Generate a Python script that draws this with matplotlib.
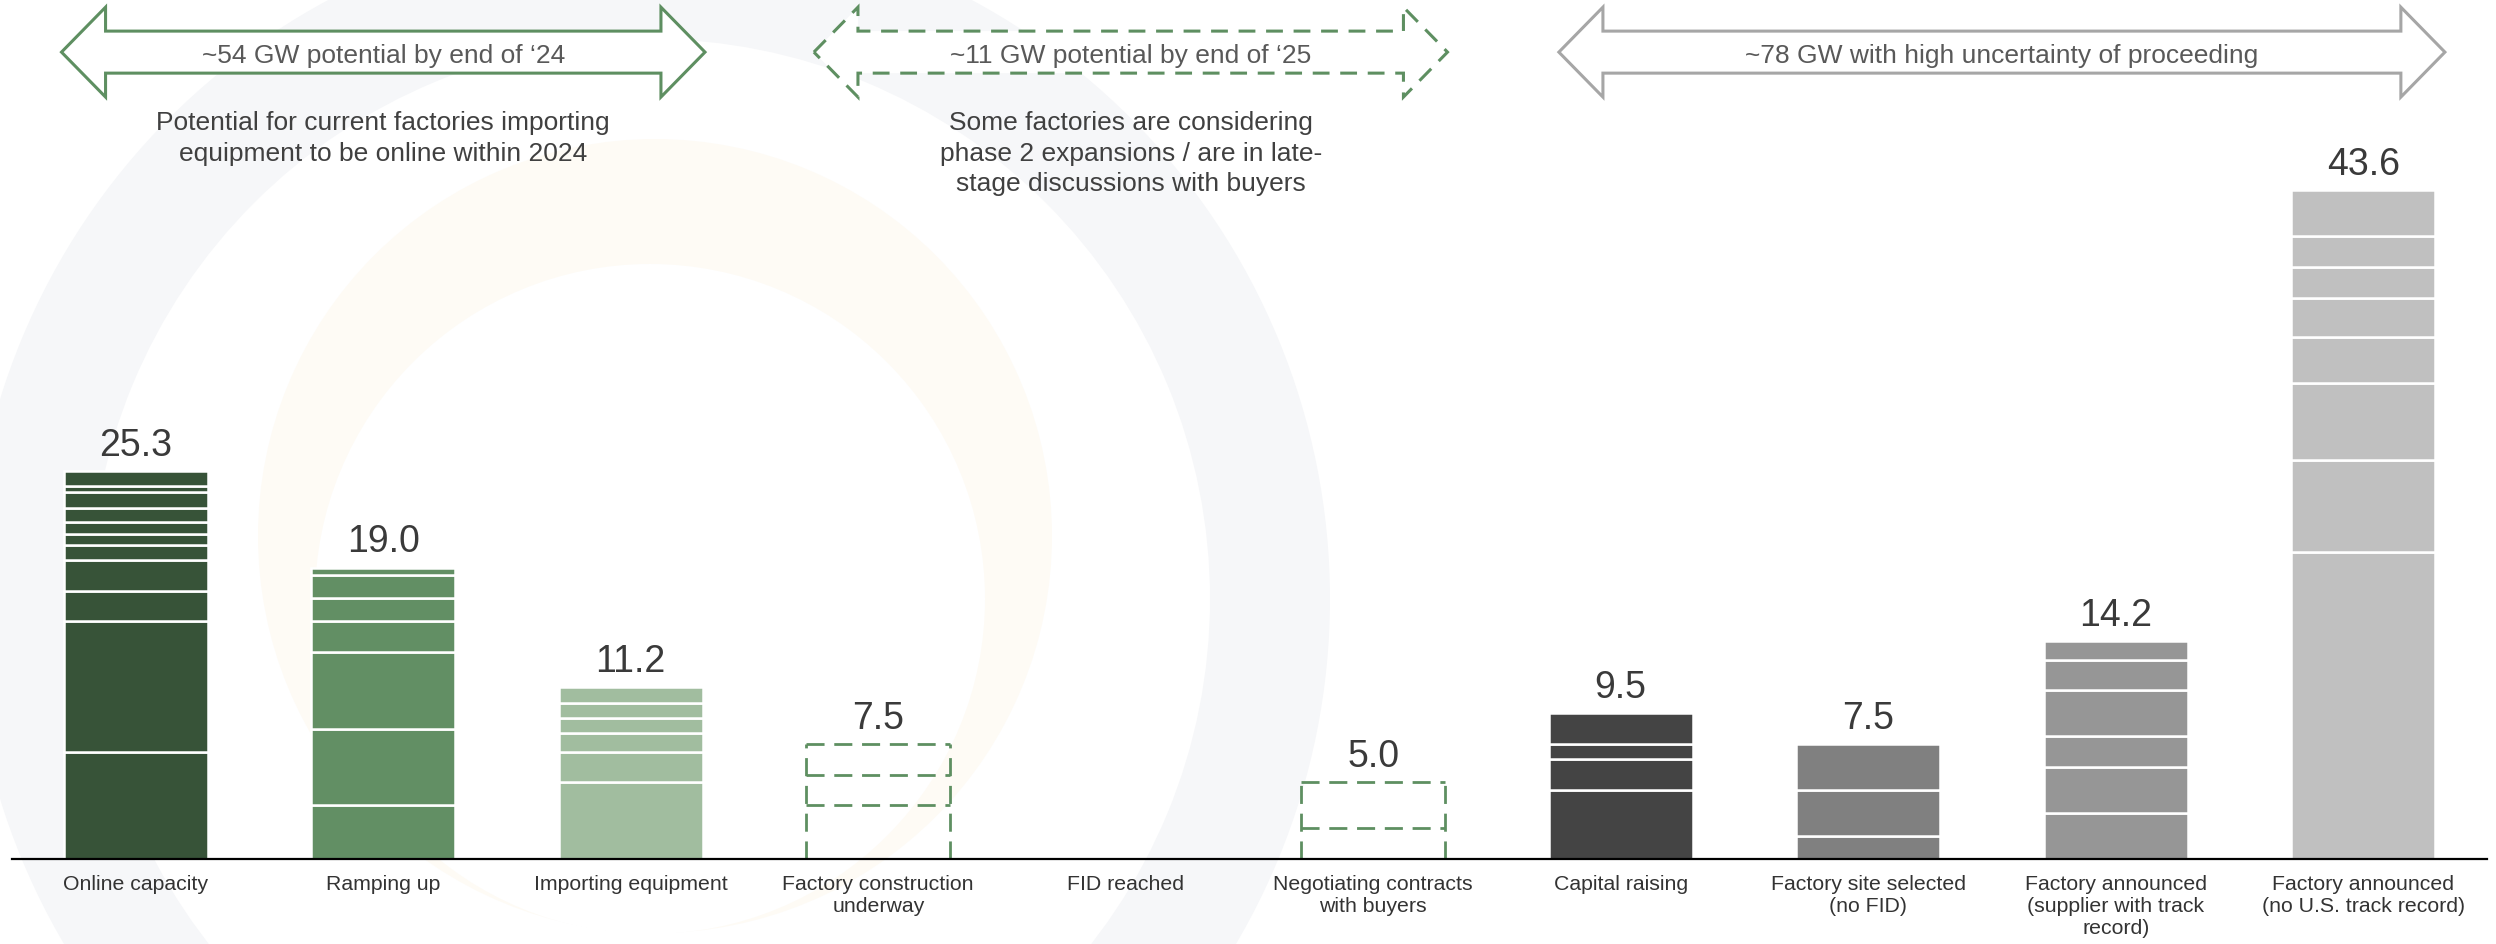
import numpy as np
import matplotlib
matplotlib.use("Agg")
import matplotlib.pyplot as plt
from matplotlib.patches import Polygon, Circle, Wedge

plt.rcParams['font.family'] = ['Liberation Sans', 'DejaVu Sans']

# data
categories = ["Online capacity", "Ramping up", "Importing equipment",
              "Factory construction\nunderway", "FID reached",
              "Negotiating contracts\nwith buyers", "Capital raising",
              "Factory site selected\n(no FID)",
              "Factory announced\n(supplier with track\nrecord)",
              "Factory announced\n(no U.S. track record)"]
totals = [25.3, 19.0, 11.2, 7.5, 0.0, 5.0, 9.5, 7.5, 14.2, 43.6]

# stacked pieces per stage, bottom -> top (GW)
online = [7.0, 8.5, 2.0, 2.0, 1.0, 0.7, 0.8, 0.9, 1.0, 0.4, 1.0]
ramping = [3.5, 5.0, 5.0, 2.0, 1.5, 1.5, 0.5]
importing = [5.0, 2.0, 1.2, 1.0, 1.0, 1.0]
construction = [3.5, 2.0, 2.0]
fid = []
negotiating = [2.0, 3.0]
capital = [4.5, 2.0, 1.0, 2.0]
site = [1.5, 3.0, 3.0]
announced_track = [3.0, 3.0, 2.0, 3.0, 2.0, 1.2]
announced_new = [20.0, 6.0, 5.0, 3.0, 2.6, 2.0, 2.0, 3.0]
stacks = [online, ramping, importing, construction, fid, negotiating,
          capital, site, announced_track, announced_new]

colors = ['#375338', '#628f64', '#a1bd9f', '#5e8f61', '#5e8f61', '#5e8f61',
          '#444444', '#808080', '#969696', '#c0c0c0']
dashed = [False, False, False, True, True, True, False, False, False, False]

arrow_labels = ["~54 GW potential by end of \u201824",
                "~11 GW potential by end of \u201825",
                "~78 GW with high uncertainty of proceeding"]
arrow_spans = [(-0.3, 2.3), (2.74, 5.3), (5.75, 9.33)]
arrow_colors = ['#5e8f61', '#5e8f61', '#a6a6a6']
arrow_styles = ['solid', (0, (5.5, 3.5)), 'solid']
notes = ["Potential for current factories importing\nequipment to be online within 2024",
         "Some factories are considering\nphase 2 expansions / are in late-\nstage discussions with buyers",
         ""]

W, H = 2496, 945
fig = plt.figure(figsize=(W / 100, H / 100), dpi=100)

# faint logo watermark behind everything
bg = fig.add_axes([0, 0, 1, 1], zorder=0)
bg.set_xlim(0, W)
bg.set_ylim(H, 0)
bg.axis('off')
bg.add_patch(Wedge((650, 600), 680, 0, 360, width=120, fc='#f6f7f9', ec='none'))
bg.add_patch(Circle((655, 537), 397, fc='#fefbf5', ec='none'))
bg.add_patch(Circle((650, 600), 335, fc='white', ec='none'))

ax = fig.add_axes([12 / W, 85 / H, (2487 - 12) / W, 860 / H], zorder=1)
ax.patch.set_alpha(0)
x = np.arange(len(categories))
bw = 0.58
dash = (0, (6.5, 3.5))

for i, segs in enumerate(stacks):
    if dashed[i]:
        # outline only: a dashed line on top of every piece plus the two sides
        tops = np.cumsum(segs)
        if len(tops):
            ax.hlines(tops, x[i] - bw / 2, x[i] + bw / 2, colors=colors[i],
                      linewidth=2.0, linestyles=[dash])
            ax.vlines([x[i] - bw / 2, x[i] + bw / 2], 0, tops[-1],
                      colors=colors[i], linewidth=2.0, linestyles=[dash])
    else:
        bottom = 0.0
        for s in segs:
            ax.bar(x[i], s, bw, bottom=bottom, color=colors[i],
                   edgecolor='white', linewidth=1.8)
            bottom += s
    if totals[i] > 0:
        ax.annotate(f"{totals[i]:.1f}", (x[i], totals[i]), xytext=(0, 6),
                    textcoords='offset points', ha='center', va='bottom',
                    fontsize=27, color='#3a3a3a')

ax.set_xlim(-0.5, 9.5)
ax.set_ylim(0, 860 / 15.34)
ax.set_xticks(x)
ax.set_xticklabels(categories, fontsize=15.3, color='#333333', linespacing=1.2)
ax.tick_params(axis='x', length=0, pad=11)
ax.set_yticks([])
for sp in ['top', 'left', 'right']:
    ax.spines[sp].set_visible(False)
ax.spines['bottom'].set_linewidth(1.6)
ax.spines['bottom'].set_color('black')
ax.spines['bottom'].set_zorder(5)

# double arrows over the stage groups
yc, sh, hh, hl = 52.6, 1.37, 2.93, 0.178
for (x0, x1), lab, col, ls, note in zip(arrow_spans, arrow_labels, arrow_colors,
                                        arrow_styles, notes):
    pts = [(x0, yc), (x0 + hl, yc + hh), (x0 + hl, yc + sh), (x1 - hl, yc + sh),
           (x1 - hl, yc + hh), (x1, yc), (x1 - hl, yc - hh), (x1 - hl, yc - sh),
           (x0 + hl, yc - sh), (x0 + hl, yc - hh)]
    ax.add_patch(Polygon(pts, closed=True, fc='white', ec=col, lw=2.2,
                         linestyle=ls, clip_on=False, joinstyle='miter'))
    xm = (x0 + x1) / 2
    ax.text(xm, yc - 0.2, lab, ha='center', va='center', fontsize=19,
            color='#595959')
    if note:
        ax.text(xm, 48.8, note, ha='center', va='top', fontsize=19,
                color='#404040', linespacing=1.33)

fig.savefig('out.png', dpi=100)
